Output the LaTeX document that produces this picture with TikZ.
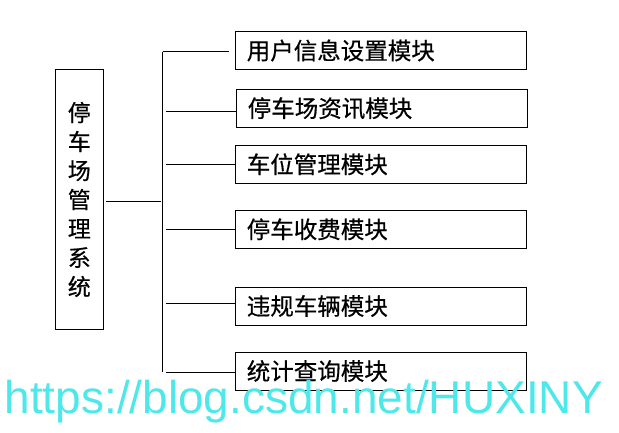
\documentclass[tikz,border=0pt]{standalone}
\usepackage{fontspec}
\setmainfont{Liberation Sans}
\newfontfamily\cjk[FakeBold=0.5]{Noto Sans CJK SC}
\newfontfamily\wmfont{Liberation Sans}
\definecolor{wmcyan}{RGB}{78,232,234}
\begin{document}
\begin{tikzpicture}[x=1pt,y=-1pt,
  line width=1pt,
  modbox/.style={draw=black, line width=1pt, minimum width=291pt, minimum height=38pt,
    inner sep=0pt, font=\cjk\fontsize{23.5}{23.5}\selectfont, text width=268pt, align=left},
  mainbox/.style={draw=black, line width=1pt, minimum width=48pt, minimum height=260.7pt,
    inner sep=0pt, font=\cjk\fontsize{23}{29}\selectfont, align=center},
  conn/.style={draw=black, line width=1pt}]
\useasboundingbox (0,0) rectangle (619,433);
\fill[white] (0,0) rectangle (619,433);

\node[mainbox] (m) at (79.3,199.5) {停\\车\\场\\管\\理\\系\\统};

\node[modbox] (b1) at (380.8,50.5) {用户信息设置模块};
\node[modbox] (b2) at (381.8,108.3) {停车场资讯模块};
\node[modbox] (b3) at (380.8,164.3) {车位管理模块};
\node[modbox] (b4) at (380.8,229.3) {停车收费模块};
\node[modbox] (b5) at (380.8,306) {违规车辆模块};
\node[modbox] (b6) at (380.8,371) {统计查询模块};

\coordinate (ms) at (106,201.3);
\coordinate (me) at (160.7,201.3);
\coordinate (vt) at (162.7,51.7);
\coordinate (vb) at (162.7,371.7);
\coordinate (t1) at (229,51.7);
\coordinate (j2) at (166,112);
\coordinate (j3) at (166,164.3);
\coordinate (j4) at (166,229.3);
\coordinate (j5) at (166,303.3);
\coordinate (j6) at (166,372.3);

\draw[conn] (ms) -- (me);
\draw[conn] (vt) -- (vb);
\draw[conn] (vt) -- (t1);
\draw[conn] (j2) -- (j2 -| b2.west);
\draw[conn] (j3) -- (j3 -| b3.west);
\draw[conn] (j4) -- (j4 -| b4.west);
\draw[conn] (j5) -- (j5 -| b5.west);
\draw[conn] (j6) -- (j6 -| b6.west);

\node[anchor=base west, inner sep=0pt, text=wmcyan, font=\wmfont\fontsize{46}{46}\selectfont] (wm) at (4,413.3) {https://blog.csdn.net/HUXINY};
\end{tikzpicture}
\end{document}
